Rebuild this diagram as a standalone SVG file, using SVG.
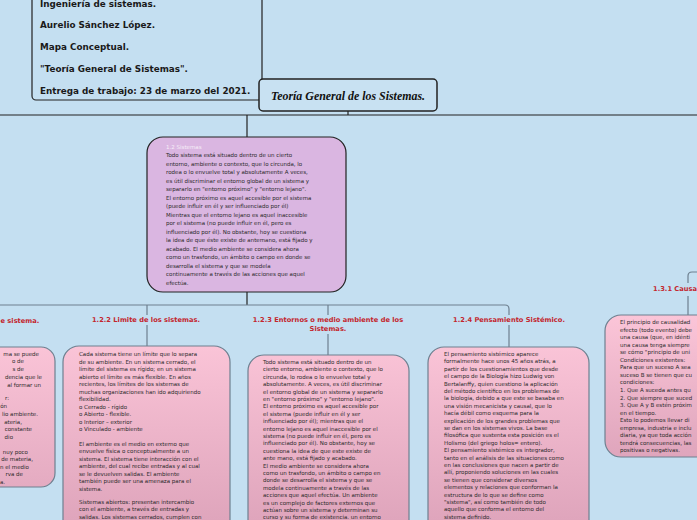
<svg xmlns="http://www.w3.org/2000/svg" width="697" height="520" viewBox="0 0 697 520">
<defs>
<linearGradient id="gb" gradientUnits="userSpaceOnUse" x1="0" y1="340" x2="0" y2="520">
<stop offset="0" stop-color="#fbc5d8"/><stop offset="1" stop-color="#dfa5bc"/>
</linearGradient>
<linearGradient id="gr" gradientUnits="userSpaceOnUse" x1="0" y1="315" x2="0" y2="457">
<stop offset="0" stop-color="#fbc5d8"/><stop offset="1" stop-color="#dfa5bc"/>
</linearGradient>
<style>
.hd{font-family:"DejaVu Sans",Verdana,sans-serif;font-weight:bold;font-size:8.8px;fill:#1a1a1a}
.t{font-family:"DejaVu Sans",Verdana,sans-serif;font-size:5.5px;fill:#2a2a2a}
.lb{font-family:"DejaVu Sans",Verdana,sans-serif;font-weight:bold;font-size:6.7px;fill:#c3262e}
.pk{stroke:#6e8090;stroke-width:1.2}
.ln{fill:none;stroke:#6e8090;stroke-width:1.2}
.dk{fill:none;stroke:#222;stroke-width:1.2}
</style>
</defs>
<rect width="697" height="520" fill="#c4dff1"/>

<g id="connectors">
<path class="dk" d="M0 115H697"/>
<path class="dk" d="M348 111V115"/>
<path class="dk" d="M247 115V137"/>
<path class="dk" d="M247 292V305"/>
<path class="ln" d="M0 305H505Q509 305 509 309V315M509 325V347"/>
<path class="ln" d="M147 305V315M147 325V346"/>
<path class="ln" d="M328 305V315M328 334V355"/>
<path class="ln" d="M697 272H692Q688 272 688 276V283M688 296V315"/>
</g>

<g id="header">
<rect x="32" y="-10" width="230" height="110" rx="4" fill="#c4dff1" stroke="#222" stroke-width="1.2"/>
<text class="hd" x="40" y="7">Ingeniería de sistemas.</text>
<text class="hd" x="40" y="28">Aurelio Sánchez López.</text>
<text class="hd" x="40" y="50">Mapa Conceptual.</text>
<text class="hd" x="40" y="72">"Teoría General de Sistemas".</text>
<text class="hd" x="40" y="94">Entrega de trabajo: 23 de marzo del 2021.</text>
</g>

<g id="title">
<rect x="259" y="79" width="178" height="32" rx="4" fill="#c8e1f2" stroke="#222" stroke-width="1.5"/>
<text x="348" y="100" text-anchor="middle" textLength="154" lengthAdjust="spacingAndGlyphs" font-family="'Liberation Serif',serif" font-weight="bold" font-style="italic" font-size="12" fill="#111">Teoría General de los Sistemas.</text>
</g>

<g id="sistemas">
<rect x="147" y="137" width="199" height="155" rx="16" fill="#dab6e1" stroke="#222" stroke-width="1.2"/>
<text class="t" x="166" y="149" style="fill:#f6eef8">1.2   Sistemas</text>
<text class="t" x="166" y="157">Todo sistema está situado dentro de un cierto</text>
<text class="t" x="166" y="165.5">entorno, ambiente o contexto, que lo circunda, lo</text>
<text class="t" x="166" y="174">rodea o lo envuelve total y absolutamente A veces,</text>
<text class="t" x="166" y="182.5">es útil discriminar el entorno global de un sistema y</text>
<text class="t" x="166" y="191">separarlo en "entorno próximo" y "entorno lejano".</text>
<text class="t" x="166" y="199.5">El entorno próximo es aquel accesible por el sistema</text>
<text class="t" x="166" y="208">(puede influir en él y ser influenciado por él)</text>
<text class="t" x="166" y="216.5">Mientras que el entorno lejano es aquel inaccesible</text>
<text class="t" x="166" y="225">por el sistema (no puede influir en él, pero es</text>
<text class="t" x="166" y="233.5">influenciado por él). No obstante, hoy se cuestiona</text>
<text class="t" x="166" y="242">la idea de que éste existe de antemano, está fijado y</text>
<text class="t" x="166" y="250.5">acabado. El medio ambiente se considera ahora</text>
<text class="t" x="166" y="259">como un trasfondo, un ámbito o campo en donde se</text>
<text class="t" x="166" y="267.5">desarrolla el sistema y que se modela</text>
<text class="t" x="166" y="276">continuamente a través de las acciones que aquel</text>
<text class="t" x="166" y="284.5">efectúa.</text>
</g>

<g id="n121">
<text class="lb" x="0.5" y="323">e sistema.</text>
<rect class="pk" x="-60" y="347" width="115" height="140" rx="14" fill="url(#gb)"/>
<text class="t" x="39" y="355.5" text-anchor="end">ma se puede</text>
<text class="t" x="24" y="363" text-anchor="end">o de</text>
<text class="t" x="24" y="371" text-anchor="end">s de</text>
<text class="t" x="42" y="378.7" text-anchor="end">dencia que le</text>
<text class="t" x="41" y="386.7" text-anchor="end">al formar un</text>
<text class="t" x="9" y="400.3" text-anchor="end">r:</text>
<text class="t" x="7" y="408" text-anchor="end">ón</text>
<text class="t" x="38" y="416" text-anchor="end">lio ambiente.</text>
<text class="t" x="22" y="423.7" text-anchor="end">ateria,</text>
<text class="t" x="32" y="431.3" text-anchor="end">constante</text>
<text class="t" x="13" y="439" text-anchor="end">dio</text>
<text class="t" x="28" y="453.7" text-anchor="end">nuy poco</text>
<text class="t" x="33" y="461.3" text-anchor="end">de materia,</text>
<text class="t" x="29" y="468.7" text-anchor="end">n el medio</text>
<text class="t" x="23" y="476.3" text-anchor="end">rva de</text>
<text class="t" x="5" y="484" text-anchor="end">a.</text>
</g>

<g id="n122">
<text class="lb" x="146" y="322" text-anchor="middle">1.2.2 Limite de los sistemas.</text>
<rect class="pk" x="63" y="346" width="167" height="200" rx="16" fill="url(#gb)"/>
<text class="t" x="79" y="356">Cada sistema tiene un límite que lo separa</text>
<text class="t" x="79" y="363.5">de su ambiente. En un sistema cerrado, el</text>
<text class="t" x="79" y="371">límite del sistema es rígido; en un sistema</text>
<text class="t" x="79" y="378.5">abierto el límite es más flexible. En años</text>
<text class="t" x="79" y="386">recientes, los límites de los sistemas de</text>
<text class="t" x="79" y="393.5">muchas organizaciones han ido adquiriendo</text>
<text class="t" x="79" y="401">flexibilidad.</text>
<text class="t" x="79" y="408.5">o Cerrado - rígido</text>
<text class="t" x="79" y="416">o Abierto - flexible.</text>
<text class="t" x="79" y="423.5">o Interior – exterior</text>
<text class="t" x="79" y="431">o Vinculado - ambiente</text>
<text class="t" x="79" y="445.5">El ambiente es el medio en externo que</text>
<text class="t" x="79" y="453">envuelve física o conceptualmente a un</text>
<text class="t" x="79" y="460.5">sistema. El sistema tiene interacción con el</text>
<text class="t" x="79" y="468">ambiente, del cual recibe entradas y al cual</text>
<text class="t" x="79" y="475.5">se le devuelven salidas. El ambiente</text>
<text class="t" x="79" y="483">también puede ser una amenaza para el</text>
<text class="t" x="79" y="490.5">sistema.</text>
<text class="t" x="79" y="504">Sistemas abiertos: presentan intercambio</text>
<text class="t" x="79" y="511.3">con el ambiente, a través de entradas y</text>
<text class="t" x="79" y="518.5">salidas. Los sistemas cerrados, cumplen con</text>
</g>

<g id="n123">
<text class="lb" x="328" y="322" text-anchor="middle">1.2.3 Entornos o medio ambiente de los</text>
<text class="lb" x="328" y="331" text-anchor="middle">Sistemas.</text>
<rect class="pk" x="248" y="355" width="161" height="200" rx="16" fill="url(#gb)"/>
<text class="t" x="263" y="364">Todo sistema está situado dentro de un</text>
<text class="t" x="263" y="371.4">cierto entorno, ambiente o contexto, que lo</text>
<text class="t" x="263" y="378.8">circunda, lo rodea o lo envuelve total y</text>
<text class="t" x="263" y="386.2">absolutamente. A veces, es útil discriminar</text>
<text class="t" x="263" y="393.6">el entorno global de un sistema y separarlo</text>
<text class="t" x="263" y="401">en "entorno próximo" y "entorno lejano".</text>
<text class="t" x="263" y="408.4">El entorno próximo es aquel accesible por</text>
<text class="t" x="263" y="415.8">el sistema (puede influir en él y ser</text>
<text class="t" x="263" y="423.2">influenciado por él); mientras que el</text>
<text class="t" x="263" y="430.6">entorno lejano es aquel inaccesible por el</text>
<text class="t" x="263" y="438">sistema (no puede influir en él, pero es</text>
<text class="t" x="263" y="445.4">influenciado por él). No obstante, hoy se</text>
<text class="t" x="263" y="452.8">cuestiona la idea de que este existe de</text>
<text class="t" x="263" y="460.2">ante mano, está fijado y acabado.</text>
<text class="t" x="263" y="467.6">El medio ambiente se considera ahora</text>
<text class="t" x="263" y="475">como un trasfondo, un ámbito o campo en</text>
<text class="t" x="263" y="482.4">donde se desarrolla el sistema y que se</text>
<text class="t" x="263" y="489.8">modela continuamente a través de las</text>
<text class="t" x="263" y="497.2">acciones que aquel efectúa. Un ambiente</text>
<text class="t" x="263" y="504.6">es un complejo de factores externos que</text>
<text class="t" x="263" y="511.8">actúan sobre un sistema y determinan su</text>
<text class="t" x="263" y="518.5">curso y su forma de existencia. un entorno</text>
</g>

<g id="n124">
<text class="lb" x="509" y="322" text-anchor="middle">1.2.4 Pensamiento Sistémico.</text>
<rect class="pk" x="428" y="347" width="161" height="200" rx="16" fill="url(#gb)"/>
<text class="t" x="444" y="356">El pensamiento sistémico aparece</text>
<text class="t" x="444" y="363.4">formalmente hace unos 45 años atrás, a</text>
<text class="t" x="444" y="370.8">partir de los cuestionamientos que desde</text>
<text class="t" x="444" y="378.2">el campo de la Biología hizo Ludwig von</text>
<text class="t" x="444" y="385.6">Bertalanffy, quien cuestiono la aplicación</text>
<text class="t" x="444" y="393">del método científico en los problemas de</text>
<text class="t" x="444" y="400.4">la biología, debido a que este se basaba en</text>
<text class="t" x="444" y="407.8">una visión mecanicista y causal, que lo</text>
<text class="t" x="444" y="415.2">hacía débil como esquema para la</text>
<text class="t" x="444" y="422.6">explicación de los grandes problemas que</text>
<text class="t" x="444" y="430">se dan en los sistemas vivos. La base</text>
<text class="t" x="444" y="437.4">filosófica que sustenta esta posición es el</text>
<text class="t" x="444" y="444.8">Holismo (del griego holos= entero).</text>
<text class="t" x="444" y="452.2">El pensamiento sistémico es integrador,</text>
<text class="t" x="444" y="459.6">tanto en el análisis de las situaciones como</text>
<text class="t" x="444" y="467">en las conclusiones que nacen a partir de</text>
<text class="t" x="444" y="474.4">allí, proponiendo soluciones en las cuales</text>
<text class="t" x="444" y="481.8">se tienen que considerar diversos</text>
<text class="t" x="444" y="489.2">elementos y relaciones que conforman la</text>
<text class="t" x="444" y="496.6">estructura de lo que se define como</text>
<text class="t" x="444" y="504">"sistema", así como también de todo</text>
<text class="t" x="444" y="511.3">aquello que conforma el entorno del</text>
<text class="t" x="444" y="518.5">sistema definido.</text>
</g>

<g id="n131">
<text class="lb" x="653" y="291">1.3.1 Causa</text>
<rect class="pk" x="605" y="315" width="130" height="142" rx="16" fill="url(#gr)"/>
<text class="t" x="620" y="324">El principio de causalidad</text>
<text class="t" x="620" y="331.5">efecto (todo evento) debe</text>
<text class="t" x="620" y="339">una causa (que, en idénti</text>
<text class="t" x="620" y="346.6">una causa tenga siempre</text>
<text class="t" x="620" y="354.2">se cómo "principio de uni</text>
<text class="t" x="620" y="361.7">Condiciones existentes:</text>
<text class="t" x="620" y="369.3">Para que un suceso A sea</text>
<text class="t" x="620" y="376.8">suceso B se tienen que cu</text>
<text class="t" x="620" y="384.4">condiciones:</text>
<text class="t" x="620" y="392">1. Que A suceda antes qu</text>
<text class="t" x="620" y="399.5">2. Que siempre que suced</text>
<text class="t" x="620" y="407">3. Que A y B estén próxim</text>
<text class="t" x="620" y="414.6">en el tiempo.</text>
<text class="t" x="620" y="422.2">Esto lo podemos llevar di</text>
<text class="t" x="620" y="429.7">empresa, industria e inclu</text>
<text class="t" x="620" y="437.3">diaria, ya que toda acción</text>
<text class="t" x="620" y="444.8">tendrá consecuencias, las</text>
<text class="t" x="620" y="452.4">positivas o negativas.</text>
</g>
</svg>
